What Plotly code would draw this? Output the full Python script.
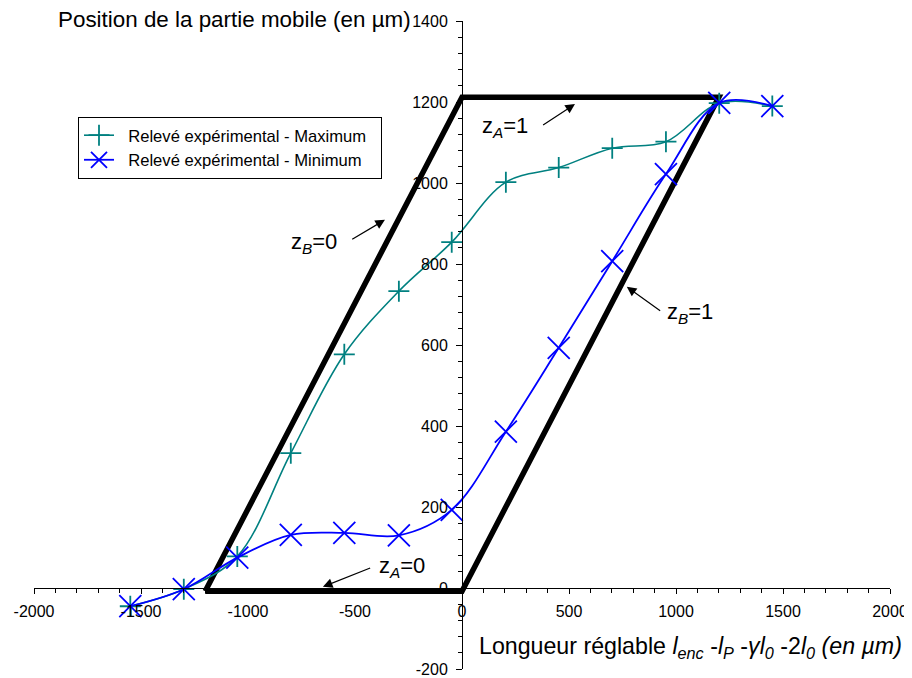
import plotly.graph_objects as go

# Data
x_vals = [-1550, -1300, -1050, -800, -550, -295, -48, 205, 452, 702, 953, 1202, 1450]
max_vals = [-45, -3, 78, 333, 577, 733, 854, 1002, 1038, 1086, 1102, 1197, 1190]
min_vals = [-45, -3, 75, 131, 136, 130, 193, 386, 593, 807, 1022, 1198, 1190]

para_x = [-1200, 0, 1200, 0, -1200]
para_y = [-8, -8, 1212, 1212, -8]

x_tickvals = [-2000, -1500, -1000, -500, 0, 500, 1000, 1500, 2000]
x_ticktext = ["-2000", "-1500", "-1000", "-500", "0", "500", "1000", "1500", "2000"]
y_tickvals = [-200, 0, 200, 400, 600, 800, 1000, 1200, 1400]
y_ticktext = ["-200", "0", "200", "400", "600", "800", "1000", "1200", "1400"]

TEAL = "#008080"
BLUE = "#0000FF"
FONT = "Liberation Sans, Arial, sans-serif"
NB = "\u00a0"

fig = go.Figure()

fig.add_trace(go.Scatter(
    x=para_x, y=para_y, mode="lines",
    line=dict(color="black", width=5.5),
    showlegend=False, hoverinfo="skip",
))

fig.add_trace(go.Scatter(
    x=x_vals, y=max_vals, mode="lines+markers",
    name=NB * 2 + "Relevé expérimental - Maximum" + NB * 2,
    line=dict(color=TEAL, width=1.6, shape="spline", smoothing=1),
    marker=dict(symbol="cross-thin", size=15, color=TEAL,
                line=dict(color=TEAL, width=1.8)),
))

fig.add_trace(go.Scatter(
    x=x_vals, y=min_vals, mode="lines+markers",
    name=NB * 2 + "Relevé expérimental - Minimum" + NB * 2,
    line=dict(color=BLUE, width=1.8, shape="spline", smoothing=1),
    marker=dict(symbol="x-thin", size=22, color=BLUE,
                line=dict(color=BLUE, width=1.8)),
))

# Arrows (tail -> head) and labels
arrows = [
    dict(tail=(372, 1141), head=(528, 1195), text="z<sub><i>A</i></sub>=1", tpos=(201, 1139)),
    dict(tail=(-520, 859), head=(-360, 909), text="z<sub><i>B</i></sub>=0", tpos=(-690, 852)),
    dict(tail=(933, 682), head=(770, 744), text="z<sub><i>B</i></sub>=1", tpos=(1067, 679)),
    dict(tail=(-422, 51), head=(-650, 3), text="z<sub><i>A</i></sub>=0", tpos=(-280, 51)),
]
annotations = []
for a in arrows:
    annotations.append(dict(
        x=a["head"][0], y=a["head"][1], ax=a["tail"][0], ay=a["tail"][1],
        xref="x", yref="y", axref="x", ayref="y", text="",
        showarrow=True, arrowhead=2, arrowsize=1.6, arrowwidth=1.2,
        arrowcolor="black", standoff=0, startstandoff=0,
    ))
    annotations.append(dict(
        x=a["tpos"][0], y=a["tpos"][1], xref="x", yref="y",
        text=a["text"], showarrow=False,
        font=dict(family=FONT, size=22, color="black"),
        xanchor="center", yanchor="middle",
    ))

annotations.append(dict(
    x=0.026, y=1.002, xref="paper", yref="paper",
    text="Position de la partie mobile (en µm)", showarrow=False,
    xanchor="left", yanchor="middle",
    font=dict(family=FONT, size=22.4, color="black"),
))
annotations.append(dict(
    x=0.518, y=0.033, xref="paper", yref="paper",
    text=("Longueur réglable <i>l</i><sub><i>enc</i></sub> -<i>l</i><sub><i>P</i></sub> "
          "-<i>γl</i><sub><i>0</i></sub> -2<i>l</i><sub><i>0</i></sub><i> (en µm)</i>"),
    showarrow=False, xanchor="left", yanchor="middle",
    font=dict(family=FONT, size=23.2, color="black"),
))

fig.update_layout(
    width=904, height=670,
    margin=dict(l=26, r=22, t=13, b=9),
    paper_bgcolor="white", plot_bgcolor="white",
    font=dict(family=FONT, size=16, color="black"),
    showlegend=True,
    legend=dict(
        x=0.0514, y=0.852, xanchor="left", yanchor="top",
        bgcolor="white", bordercolor="black", borderwidth=1,
        font=dict(family=FONT, size=16.6, color="black"),
        tracegroupgap=0,
    ),
    xaxis=dict(
        range=[-2000, 2000], tickmode="array",
        tickvals=x_tickvals, ticktext=x_ticktext,
        anchor="free", position=0.125,
        showgrid=False, zeroline=False,
        showline=True, linecolor="black", linewidth=1,
        ticks="outside", ticklen=5, tickcolor="black", tickwidth=1,
        ticklabelstandoff=4,
        minor=dict(dtick=100, tick0=0, ticks="outside", ticklen=4, tickcolor="black"),
        tickfont=dict(family=FONT, size=16, color="black"),
        automargin=False, fixedrange=True,
    ),
    yaxis=dict(
        range=[-200, 1400], tickmode="array",
        tickvals=y_tickvals, ticktext=y_ticktext,
        anchor="free", position=0.5,
        showgrid=False, zeroline=False,
        showline=True, linecolor="black", linewidth=1,
        ticks="outside", ticklen=6, tickcolor="black", tickwidth=1,
        ticklabelstandoff=5,
        minor=dict(dtick=40, tick0=0, ticks="outside", ticklen=4, tickcolor="black"),
        tickfont=dict(family=FONT, size=16, color="black"),
        automargin=False, fixedrange=True,
    ),
    annotations=annotations,
)

fig.write_html("out.html")
